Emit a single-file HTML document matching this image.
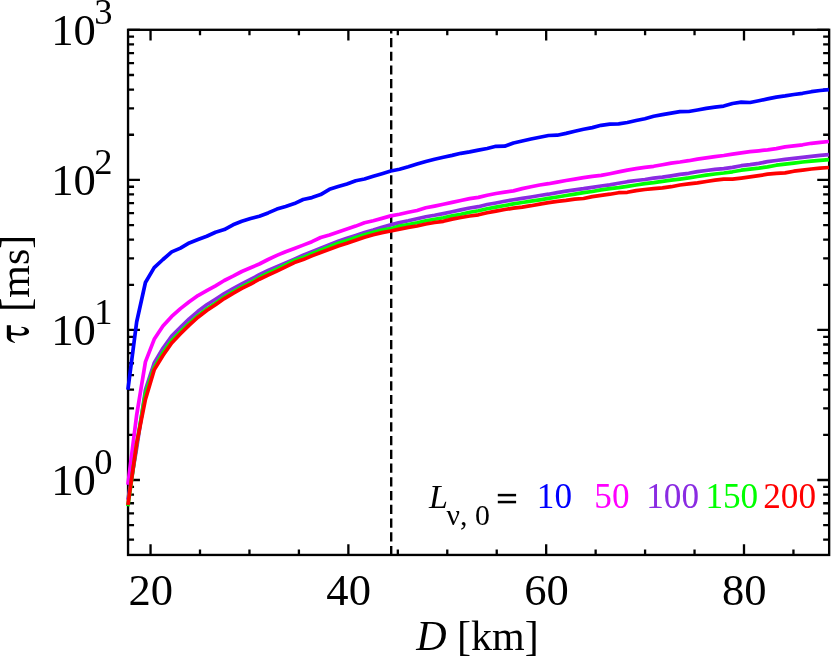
<!DOCTYPE html>
<html><head><meta charset="utf-8"><title>tau vs D</title>
<style>
html,body{margin:0;padding:0;background:#fff;}
body{width:831px;height:658px;overflow:hidden;}
svg{display:block;will-change:transform;}
text{font-family:"Liberation Serif",serif;fill:#000;}
.i{font-style:italic;}
</style></head><body>
<svg width="831" height="658" viewBox="0 0 831 658">
<rect x="0" y="0" width="831" height="658" fill="#fff"/>
<path d="M150.55 554.95V544.25M150.55 29.80V40.50M200.00 554.95V549.45M200.00 29.80V35.30M249.46 554.95V549.45M249.46 29.80V35.30M298.91 554.95V549.45M298.91 29.80V35.30M348.37 554.95V544.25M348.37 29.80V40.50M397.82 554.95V549.45M397.82 29.80V35.30M447.27 554.95V549.45M447.27 29.80V35.30M496.73 554.95V549.45M496.73 29.80V35.30M546.18 554.95V544.25M546.18 29.80V40.50M595.64 554.95V549.45M595.64 29.80V35.30M645.09 554.95V549.45M645.09 29.80V35.30M694.54 554.95V549.45M694.54 29.80V35.30M744.00 554.95V544.25M744.00 29.80V40.50M793.45 554.95V549.45M793.45 29.80V35.30M128.05 539.71H134.05M829.15 539.71H823.15M128.05 525.17H134.05M829.15 525.17H823.15M128.05 513.29H134.05M829.15 513.29H823.15M128.05 503.24H134.05M829.15 503.24H823.15M128.05 494.54H134.05M829.15 494.54H823.15M128.05 486.87H134.05M829.15 486.87H823.15M128.05 480.00H139.95M829.15 480.00H817.25M128.05 434.83H134.05M829.15 434.83H823.15M128.05 408.41H134.05M829.15 408.41H823.15M128.05 389.66H134.05M829.15 389.66H823.15M128.05 375.12H134.05M829.15 375.12H823.15M128.05 363.24H134.05M829.15 363.24H823.15M128.05 353.19H134.05M829.15 353.19H823.15M128.05 344.49H134.05M829.15 344.49H823.15M128.05 336.82H134.05M829.15 336.82H823.15M128.05 329.95H139.95M829.15 329.95H817.25M128.05 284.78H134.05M829.15 284.78H823.15M128.05 258.36H134.05M829.15 258.36H823.15M128.05 239.61H134.05M829.15 239.61H823.15M128.05 225.07H134.05M829.15 225.07H823.15M128.05 213.19H134.05M829.15 213.19H823.15M128.05 203.14H134.05M829.15 203.14H823.15M128.05 194.44H134.05M829.15 194.44H823.15M128.05 186.77H134.05M829.15 186.77H823.15M128.05 179.90H139.95M829.15 179.90H817.25M128.05 134.73H134.05M829.15 134.73H823.15M128.05 108.31H134.05M829.15 108.31H823.15M128.05 89.56H134.05M829.15 89.56H823.15M128.05 75.02H134.05M829.15 75.02H823.15M128.05 63.14H134.05M829.15 63.14H823.15M128.05 53.09H134.05M829.15 53.09H823.15M128.05 44.39H134.05M829.15 44.39H823.15M128.05 36.72H134.05M829.15 36.72H823.15M128.05 29.80H139.95M829.15 29.80H817.25" stroke="#000" stroke-width="2.30" fill="none"/>
<rect x="128.05" y="29.80" width="701.10" height="525.15" fill="none" stroke="#000" stroke-width="2.35"/>
<line x1="391.2" y1="29.80" x2="391.2" y2="554.95" stroke="#000" stroke-width="2.4" stroke-dasharray="9.2 4.53" stroke-dashoffset="5.60"/>
<polyline points="127.90,389.80 136.66,322.00 145.43,282.50 154.19,267.60 162.95,259.50 171.71,251.90 180.47,248.10 189.24,242.90 198.00,239.60 206.76,236.20 215.53,232.20 224.29,229.60 233.05,224.80 241.81,221.30 250.57,218.50 259.34,216.20 268.10,212.90 276.86,209.10 285.62,206.50 294.39,203.60 303.15,199.50 311.91,197.60 320.67,194.60 329.44,189.30 338.20,186.50 346.96,183.90 355.73,180.70 364.49,179.00 373.25,176.20 382.01,173.70 390.77,171.00 399.54,169.20 408.30,166.80 417.06,164.10 425.82,161.50 434.59,159.20 443.35,157.20 452.11,155.40 460.88,153.30 469.64,151.90 478.40,150.10 487.16,148.50 495.92,146.30 504.69,146.20 513.45,143.00 522.21,141.00 530.98,139.00 539.74,137.20 548.50,135.50 557.26,135.20 566.02,133.40 574.79,131.30 583.55,129.30 592.31,127.60 601.07,125.30 609.84,124.10 618.60,123.80 627.36,122.50 636.12,120.50 644.89,118.70 653.65,116.20 662.41,114.60 671.17,113.10 679.94,111.60 688.70,111.50 697.46,110.00 706.22,108.40 714.99,107.20 723.75,106.10 732.51,103.50 741.27,102.20 750.04,102.50 758.80,100.70 767.56,98.90 776.32,97.10 785.09,95.90 793.85,94.50 802.61,93.30 811.37,91.70 820.14,90.50 828.90,89.60" fill="none" stroke="#0000ff" stroke-width="3.70" stroke-linejoin="round" stroke-linecap="butt"/>
<polyline points="127.90,484.80 136.66,415.10 145.43,361.90 154.19,339.30 162.95,326.10 171.71,316.40 180.47,308.60 189.24,301.80 198.00,295.60 206.76,290.70 215.53,285.80 224.29,280.50 233.05,276.20 241.81,271.50 250.57,267.80 259.34,264.00 268.10,259.50 276.86,255.40 285.62,251.70 294.39,248.50 303.15,245.10 311.91,241.70 320.67,237.50 329.44,234.90 338.20,231.90 346.96,229.10 355.73,226.10 364.49,222.70 373.25,220.70 382.01,218.40 390.77,215.90 399.54,214.20 408.30,212.20 417.06,210.50 425.82,207.80 434.59,206.10 443.35,204.30 452.11,202.40 460.88,200.50 469.64,198.60 478.40,197.40 487.16,195.30 495.92,193.50 504.69,192.10 513.45,190.90 522.21,188.60 530.98,186.80 539.74,185.00 548.50,183.70 557.26,182.10 566.02,180.50 574.79,179.10 583.55,177.70 592.31,176.30 601.07,175.40 609.84,173.70 618.60,171.90 627.36,170.10 636.12,168.70 644.89,167.30 653.65,166.30 662.41,164.70 671.17,163.10 679.94,162.00 688.70,160.70 697.46,159.10 706.22,157.90 714.99,156.60 723.75,155.50 732.51,154.10 741.27,152.90 750.04,151.70 758.80,150.80 767.56,149.80 776.32,148.60 785.09,146.90 793.85,145.80 802.61,144.80 811.37,143.30 820.14,142.30 828.90,141.50" fill="none" stroke="#ff00ff" stroke-width="3.70" stroke-linejoin="round" stroke-linecap="butt"/>
<polyline points="127.90,499.70 136.66,448.20 145.43,389.80 154.19,363.00 162.95,348.30 171.71,336.10 180.47,327.40 189.24,318.90 198.00,311.30 206.76,304.80 215.53,299.20 224.29,293.50 233.05,288.60 241.81,284.00 250.57,279.40 259.34,274.70 268.10,270.50 276.86,266.60 285.62,262.90 294.39,259.10 303.15,255.20 311.91,251.70 320.67,248.20 329.44,244.70 338.20,241.30 346.96,238.20 355.73,235.40 364.49,232.60 373.25,230.10 382.01,227.30 390.77,224.90 399.54,222.60 408.30,220.80 417.06,218.70 425.82,216.80 434.59,215.30 443.35,213.60 452.11,211.80 460.88,209.90 469.64,208.00 478.40,206.70 487.16,204.50 495.92,203.00 504.69,201.30 513.45,199.80 522.21,198.40 530.98,197.00 539.74,195.50 548.50,194.20 557.26,192.60 566.02,191.20 574.79,189.80 583.55,188.70 592.31,187.30 601.07,186.00 609.84,184.90 618.60,183.30 627.36,181.70 636.12,180.50 644.89,179.50 653.65,178.20 662.41,177.20 671.17,175.80 679.94,174.40 688.70,173.30 697.46,171.60 706.22,170.50 714.99,169.40 723.75,168.70 732.51,167.40 741.27,165.70 750.04,164.70 758.80,163.40 767.56,161.60 776.32,160.50 785.09,159.30 793.85,158.30 802.61,157.30 811.37,156.30 820.14,155.40 828.90,154.70" fill="none" stroke="#8a2be2" stroke-width="3.70" stroke-linejoin="round" stroke-linecap="butt"/>
<polyline points="127.90,506.30 136.66,444.00 145.43,393.60 154.19,367.60 162.95,352.90 171.71,340.60 180.47,331.70 189.24,323.40 198.00,315.70 206.76,309.10 215.53,303.30 224.29,297.10 233.05,291.90 241.81,286.90 250.57,282.50 259.34,277.50 268.10,273.10 276.86,269.10 285.62,264.90 294.39,260.50 303.15,257.60 311.91,253.70 320.67,250.10 329.44,246.70 338.20,243.20 346.96,240.50 355.73,237.60 364.49,234.70 373.25,232.20 382.01,230.10 390.77,228.70 399.54,226.10 408.30,224.50 417.06,222.80 425.82,220.70 434.59,219.20 443.35,217.70 452.11,215.90 460.88,214.20 469.64,212.20 478.40,210.70 487.16,208.70 495.92,207.10 504.69,205.50 513.45,203.90 522.21,202.50 530.98,201.10 539.74,199.80 548.50,198.40 557.26,197.00 566.02,195.50 574.79,194.10 583.55,192.70 592.31,191.50 601.07,189.90 609.84,188.70 618.60,187.60 627.36,186.30 636.12,185.00 644.89,183.70 653.65,182.60 662.41,181.30 671.17,180.20 679.94,179.10 688.70,177.90 697.46,176.50 706.22,175.10 714.99,174.00 723.75,173.00 732.51,171.80 741.27,170.20 750.04,169.10 758.80,168.10 767.56,166.90 776.32,165.20 785.09,164.10 793.85,163.10 802.61,162.00 811.37,161.20 820.14,160.30 828.90,159.60" fill="none" stroke="#00ff00" stroke-width="3.70" stroke-linejoin="round" stroke-linecap="butt"/>
<polyline points="127.90,505.00 136.66,443.50 145.43,399.40 154.19,369.90 162.95,355.50 171.71,343.00 180.47,333.80 189.24,325.10 198.00,317.20 206.76,310.50 215.53,304.80 224.29,298.60 233.05,293.30 241.81,288.40 250.57,284.10 259.34,279.20 268.10,275.10 276.86,271.10 285.62,266.90 294.39,262.60 303.15,259.60 311.91,255.90 320.67,252.50 329.44,249.30 338.20,246.00 346.96,243.30 355.73,240.30 364.49,237.30 373.25,234.70 382.01,232.60 390.77,231.00 399.54,229.10 408.30,227.40 417.06,226.00 425.82,224.00 434.59,222.50 443.35,221.30 452.11,219.10 460.88,217.50 469.64,216.00 478.40,214.80 487.16,212.70 495.92,211.10 504.69,209.50 513.45,208.20 522.21,207.10 530.98,205.70 539.74,204.10 548.50,202.70 557.26,201.40 566.02,200.40 574.79,199.20 583.55,198.50 592.31,196.60 601.07,195.30 609.84,194.20 618.60,192.70 627.36,192.30 636.12,190.60 644.89,189.50 653.65,188.70 662.41,187.90 671.17,186.70 679.94,185.00 688.70,183.90 697.46,182.90 706.22,181.50 714.99,180.20 723.75,179.20 732.51,179.20 741.27,178.10 750.04,176.90 758.80,175.60 767.56,174.20 776.32,173.40 785.09,172.90 793.85,171.20 802.61,170.10 811.37,169.00 820.14,168.10 828.90,167.50" fill="none" stroke="#ff0000" stroke-width="3.70" stroke-linejoin="round" stroke-linecap="butt"/>
<text x="150.85" y="605.1" font-size="44.6" text-anchor="middle">20</text>
<text x="348.67" y="605.1" font-size="44.6" text-anchor="middle">40</text>
<text x="546.48" y="605.1" font-size="44.6" text-anchor="middle">60</text>
<text x="744.30" y="605.1" font-size="44.6" text-anchor="middle">80</text>
<text x="95.9" y="495.40" font-size="44.6" text-anchor="end">10</text>
<text x="94.2" y="473.70" font-size="36.5">0</text>
<text x="95.9" y="345.35" font-size="44.6" text-anchor="end">10</text>
<text x="94.2" y="323.65" font-size="36.5">1</text>
<text x="95.9" y="195.30" font-size="44.6" text-anchor="end">10</text>
<text x="94.2" y="173.60" font-size="36.5">2</text>
<text x="95.9" y="45.25" font-size="44.6" text-anchor="end">10</text>
<text x="94.2" y="23.55" font-size="36.5">3</text>
<text x="477.4" y="650.0" font-size="42.0" text-anchor="middle"><tspan class="i">D</tspan> [km]</text>
<text transform="translate(28.8 234.7) rotate(-90)" font-size="42.0" text-anchor="end">[ms]</text>
<path transform="translate(0 318) scale(0.04866)" d="M140,150 L225,150 L225,300 C300,305 380,322 420,320 C470,318 510,290 510,255 C510,225 480,205 432,195 L445,178 C540,180 598,225 598,280 C598,335 530,365 420,365 C350,365 280,350 228,350 L228,420 C240,460 290,480 310,500 L300,515 C220,490 140,450 140,390 Z" fill="#000"/>
<text x="428.9" y="507.8" font-size="34" class="i">L</text>
<text x="446.6" y="524.9" font-size="29.8">ν, 0</text>
<rect x="497.8" y="493.85" width="18.3" height="2.5" fill="#000"/><rect x="497.8" y="500.8" width="18.3" height="2.5" fill="#000"/>
<text x="554.45" y="507.7" font-size="35.2" text-anchor="middle" style="fill:#0000ff">10</text>
<text x="611.90" y="507.7" font-size="35.2" text-anchor="middle" style="fill:#ff00ff">50</text>
<text x="672.60" y="507.7" font-size="35.2" text-anchor="middle" style="fill:#8a2be2">100</text>
<text x="731.80" y="507.7" font-size="35.2" text-anchor="middle" style="fill:#00ff00">150</text>
<text x="789.65" y="507.7" font-size="35.2" text-anchor="middle" style="fill:#ff0000">200</text>
</svg>
</body></html>
